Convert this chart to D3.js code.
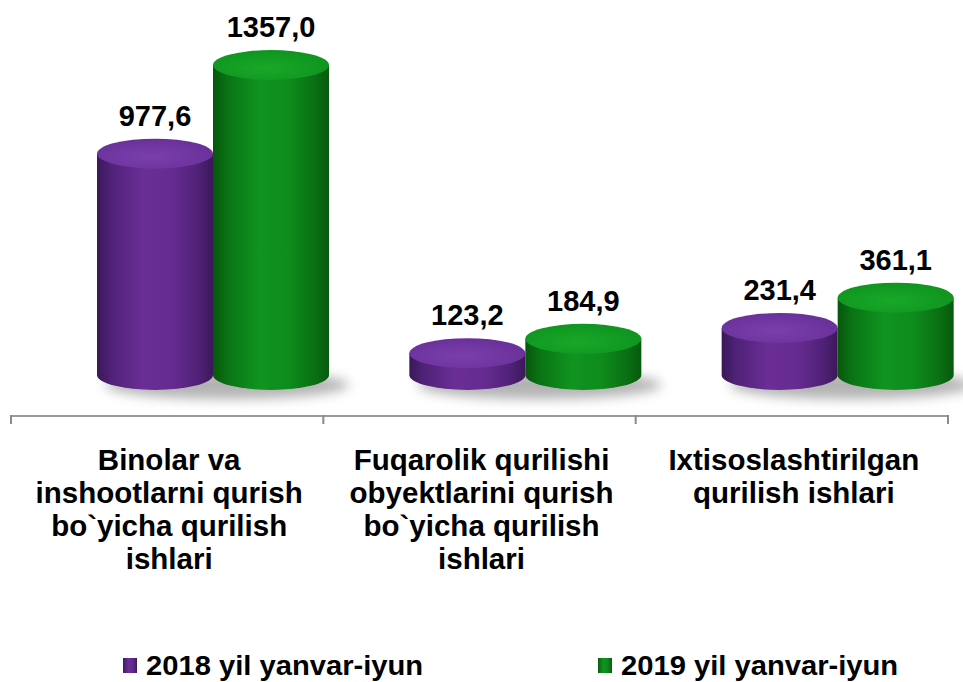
<!DOCTYPE html>
<html><head><meta charset="utf-8">
<script src="https://cdn.jsdelivr.net/npm/d3@7"></script>
<style>html,body{margin:0;padding:0;background:#fff}</style>
</head><body>
<svg id="c" width="963" height="682"></svg>
<script>
const categories = [
  ["Binolar va","inshootlarni qurish","bo`yicha qurilish","ishlari"],
  ["Fuqarolik qurilishi","obyektlarini qurish","bo`yicha qurilish","ishlari"],
  ["Ixtisoslashtirilgan","qurilish ishlari"]
];
const seriesNames = ["2018 yil yanvar-iyun","2019 yil yanvar-iyun"];
const values2018 = [977.6, 123.2, 231.4];
const values2019 = [1357.0, 184.9, 361.1];
const labels2018 = ["977,6","123,2","231,4"];
const labels2019 = ["1357,0","184,9","361,1"];

const svg = d3.select("#c");
const defs = svg.append("defs");
const font = "'Liberation Sans', Arial, sans-serif";

function grad(id, stops){
  const g = defs.append("linearGradient").attr("id", id).attr("x1","0%").attr("x2","100%").attr("y1","0%").attr("y2","0%");
  stops.forEach(s => g.append("stop").attr("offset", s[0]).attr("stop-color", s[1]));
}
grad("gp", [["0%","#3a1857"],["12%","#4f2277"],["40%","#6a2e96"],["65%","#662b91"],["88%","#4f2176"],["100%","#3b1859"]]);
grad("gg", [["0%","#06560c"],["12%","#0a7314"],["40%","#109420"],["65%","#0e8c1c"],["88%","#0a6f13"],["100%","#065a0c"]]);
const tp = defs.append("radialGradient").attr("id","tp").attr("cx","45%").attr("cy","60%").attr("r","60%");
tp.append("stop").attr("offset","0%").attr("stop-color","#7a3fab");
tp.append("stop").attr("offset","100%").attr("stop-color","#6a309a");
const tg = defs.append("radialGradient").attr("id","tg").attr("cx","45%").attr("cy","60%").attr("r","60%");
tg.append("stop").attr("offset","0%").attr("stop-color","#18a828");
tg.append("stop").attr("offset","100%").attr("stop-color","#0f9420");
const blur = defs.append("filter").attr("id","blur").attr("x","-30%").attr("y","-100%").attr("width","160%").attr("height","300%");
blur.append("feGaussianBlur").attr("stdDeviation", 6);

const x0 = d3.scaleBand().domain(d3.range(categories.length)).range([11, 948]).padding(0);
const x1 = d3.scaleBand().domain([0,1]).range([86, 318]).padding(0);
const y = d3.scaleLinear().domain([0, 1357]).range([382, 65]);
const baseY = 375, ry = 15;

const series = [
  {vals: values2018, labs: labels2018, body: "url(#gp)", top: "url(#tp)"},
  {vals: values2019, labs: labels2019, body: "url(#gg)", top: "url(#tg)"}
];

// shadows
categories.forEach((c, i) => {
  const left = x0(i) + x1(0), right = x0(i) + x1(1) + x1.bandwidth();
  svg.append("ellipse").attr("cx", (left + right)/2 + 14).attr("cy", baseY + 10)
    .attr("rx", (right - left)/2 + 6).attr("ry", 14).attr("fill", "#9a9a9a").attr("opacity", 0.75)
    .attr("filter", "url(#blur)");
});

// axis
const axisG = svg.append("g");
axisG.append("line").attr("x1", x0.range()[0]).attr("x2", x0.range()[1]).attr("y1", 416).attr("y2", 416)
  .attr("stroke", "#9a9a9a").attr("stroke-width", 2);
const ticks = d3.range(categories.length + 1).map(i => i < categories.length ? x0(i) : x0.range()[1]);
ticks.forEach(t => axisG.append("line").attr("x1", t).attr("x2", t).attr("y1", 415).attr("y2", 424)
  .attr("stroke", "#8a8a8a").attr("stroke-width", 2));

// cylinders
series.forEach((s, si) => {
  s.vals.forEach((v, i) => {
    const w = x1.bandwidth();
    const cx = x0(i) + x1(si) + w/2;
    const ty = y(v);
    const g = svg.append("g");
    g.append("path")
      .attr("d", `M${cx - w/2},${ty} L${cx - w/2},${baseY} A${w/2},${ry} 0 0 0 ${cx + w/2},${baseY} L${cx + w/2},${ty} Z`)
      .attr("fill", s.body);
    g.append("ellipse").attr("cx", cx).attr("cy", ty).attr("rx", w/2).attr("ry", ry).attr("fill", s.top);
    svg.append("text").attr("x", cx).attr("y", ty - ry - 13).attr("text-anchor", "middle")
      .attr("font-family", font).attr("font-weight", "bold").attr("font-size", 29).attr("fill", "#000")
      .text(s.labs[i]);
  });
});

// category labels
categories.forEach((lines, i) => {
  const t = svg.append("text").attr("text-anchor", "middle").attr("font-family", font)
    .attr("font-weight", "bold").attr("font-size", 29.5).attr("fill", "#000");
  lines.forEach((ln, k) => t.append("tspan").attr("x", x0(i) + x0.bandwidth()/2 + 2).attr("y", 470 + k*33).text(ln));
});

// legend
const legX = [123, 598];
series.forEach((s, si) => {
  const g = svg.append("g").attr("transform", `translate(${legX[si]},658)`);
  g.append("rect").attr("width", 14).attr("height", 15).attr("fill", s.body);
  g.append("text").attr("transform", "translate(23,17) scale(1.08,1)").attr("font-family", font).attr("font-weight", "bold")
    .attr("font-size", 27).attr("fill", "#000").text(seriesNames[si]);
});
</script>
</body></html>
